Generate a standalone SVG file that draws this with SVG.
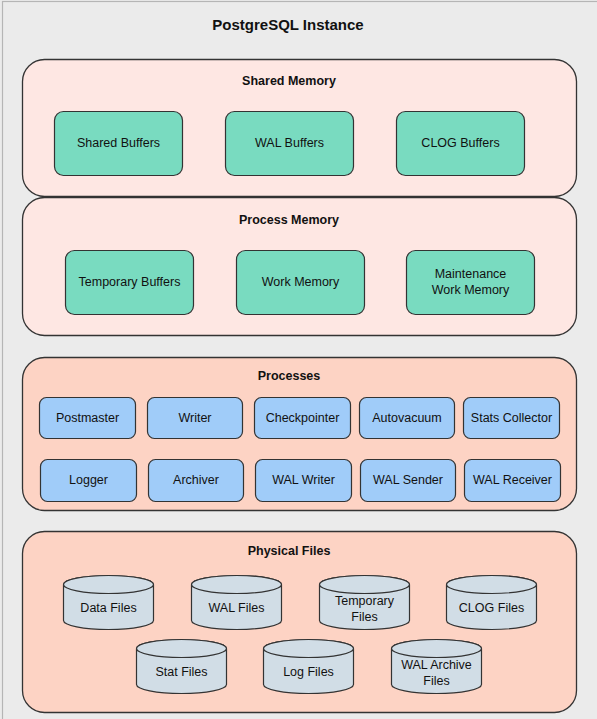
<svg xmlns="http://www.w3.org/2000/svg" xmlns:xlink="http://www.w3.org/1999/xlink" width="597" height="719" viewBox="0 0 597 719">
<style>
text{font-family:"Liberation Sans",Arial,Helvetica,sans-serif;fill:#111;text-anchor:middle;dominant-baseline:central}
.title{font-size:15px;font-weight:bold}
.sec{font-size:12.5px;font-weight:bold}
.lbl{font-size:12.5px}
.cont{stroke:#333;stroke-width:1.3}
.pink{fill:#fee7e3}
.salmon{fill:#fdd3c4}
.mem{fill:#79dbc0;stroke:#333;stroke-width:1.2}
.proc{fill:#a0ccf9;stroke:#333;stroke-width:1.2}
.cyl{fill:#d1dde6;stroke:#333;stroke-width:1.2}
</style>
<defs>
<g id="cyl">
<path class="cyl" d="M0,9 A45,9 0 0 1 90,9 L90,45 A45,9 0 0 1 0,45 Z"/>
<ellipse class="cyl" cx="45" cy="9" rx="45" ry="9"/>
</g>
</defs>
<rect x="0" y="0" width="597" height="719" fill="#ebebeb"/>
<rect x="2.5" y="1.5" width="640" height="760" fill="none" stroke="#b5b5b5" stroke-width="1.2"/>
<g id="instance"><text class="title" x="288" y="24">PostgreSQL Instance</text></g>

<g id="shared-memory">
<rect class="cont pink" x="22.5" y="59.5" width="554" height="137" rx="22"/>
<text class="sec" x="289" y="81">Shared Memory</text>
</g>
<g id="process-memory">
<rect class="cont pink" x="22.5" y="197.5" width="554" height="138" rx="22"/>
<text class="sec" x="289" y="220">Process Memory</text>
</g>
<g id="processes">
<rect class="cont salmon" x="22.5" y="357.5" width="554" height="153" rx="22"/>
<text class="sec" x="289" y="376">Processes</text>
</g>
<g id="physical-files">
<rect class="cont salmon" x="22.5" y="531.5" width="554" height="181" rx="22"/>
<text class="sec" x="289" y="551">Physical Files</text>
</g>

<g id="shared-buffers"><rect class="mem" x="54.5" y="111.5" width="128" height="64" rx="9"/><text class="lbl" x="118.5" y="143">Shared Buffers</text></g>
<g id="wal-buffers"><rect class="mem" x="225.5" y="111.5" width="128" height="64" rx="9"/><text class="lbl" x="289.5" y="143">WAL Buffers</text></g>
<g id="clog-buffers"><rect class="mem" x="396.5" y="111.5" width="128" height="64" rx="9"/><text class="lbl" x="460.5" y="143">CLOG Buffers</text></g>

<g id="temporary-buffers"><rect class="mem" x="65.5" y="250.5" width="128" height="64" rx="9"/><text class="lbl" x="129.5" y="282">Temporary Buffers</text></g>
<g id="work-memory"><rect class="mem" x="236.5" y="250.5" width="128" height="64" rx="9"/><text class="lbl" x="300.5" y="282">Work Memory</text></g>
<g id="maintenance-work-memory"><rect class="mem" x="406.5" y="250.5" width="128" height="64" rx="9"/><text class="lbl" x="470.5" y="274">Maintenance</text><text class="lbl" x="470.5" y="290">Work Memory</text></g>

<g id="postmaster"><rect class="proc" x="39.5" y="397.5" width="96" height="41" rx="7"/><text class="lbl" x="87.5" y="417.5">Postmaster</text></g>
<g id="writer"><rect class="proc" x="147.5" y="397.5" width="95" height="41" rx="7"/><text class="lbl" x="195" y="417.5">Writer</text></g>
<g id="checkpointer"><rect class="proc" x="254.5" y="397.5" width="96" height="41" rx="7"/><text class="lbl" x="302.5" y="417.5">Checkpointer</text></g>
<g id="autovacuum"><rect class="proc" x="359.5" y="397.5" width="95" height="41" rx="7"/><text class="lbl" x="407" y="417.5">Autovacuum</text></g>
<g id="stats-collector"><rect class="proc" x="463.5" y="397.5" width="96" height="41" rx="7"/><text class="lbl" x="511.5" y="417.5">Stats Collector</text></g>

<g id="logger"><rect class="proc" x="40.5" y="459.5" width="96" height="42" rx="7"/><text class="lbl" x="88.5" y="480">Logger</text></g>
<g id="archiver"><rect class="proc" x="148.5" y="459.5" width="95" height="42" rx="7"/><text class="lbl" x="196" y="480">Archiver</text></g>
<g id="wal-writer"><rect class="proc" x="255.5" y="459.5" width="96" height="42" rx="7"/><text class="lbl" x="303.5" y="480">WAL Writer</text></g>
<g id="wal-sender"><rect class="proc" x="360.5" y="459.5" width="95" height="42" rx="7"/><text class="lbl" x="408" y="480">WAL Sender</text></g>
<g id="wal-receiver"><rect class="proc" x="464.5" y="459.5" width="96" height="42" rx="7"/><text class="lbl" x="512.5" y="480">WAL Receiver</text></g>

<g id="data-files"><use xlink:href="#cyl" href="#cyl" transform="translate(63.5,575.5)"/><text class="lbl" x="108.5" y="608">Data Files</text></g>
<g id="wal-files"><use xlink:href="#cyl" href="#cyl" transform="translate(191.5,575.5)"/><text class="lbl" x="236.5" y="608">WAL Files</text></g>
<g id="temporary-files"><use xlink:href="#cyl" href="#cyl" transform="translate(319.5,575.5)"/><text class="lbl" x="364.5" y="601">Temporary</text><text class="lbl" x="364.5" y="617">Files</text></g>
<g id="clog-files"><use xlink:href="#cyl" href="#cyl" transform="translate(446.5,575.5)"/><text class="lbl" x="491.5" y="608">CLOG Files</text></g>
<g id="stat-files"><use xlink:href="#cyl" href="#cyl" transform="translate(136.5,639.5)"/><text class="lbl" x="181.5" y="672">Stat Files</text></g>
<g id="log-files"><use xlink:href="#cyl" href="#cyl" transform="translate(263.5,639.5)"/><text class="lbl" x="308.5" y="672">Log Files</text></g>
<g id="wal-archive-files"><use xlink:href="#cyl" href="#cyl" transform="translate(391.5,639.5)"/><text class="lbl" x="436.5" y="664.5">WAL Archive</text><text class="lbl" x="436.5" y="680.5">Files</text></g>
<g id="connectors"></g>
</svg>
